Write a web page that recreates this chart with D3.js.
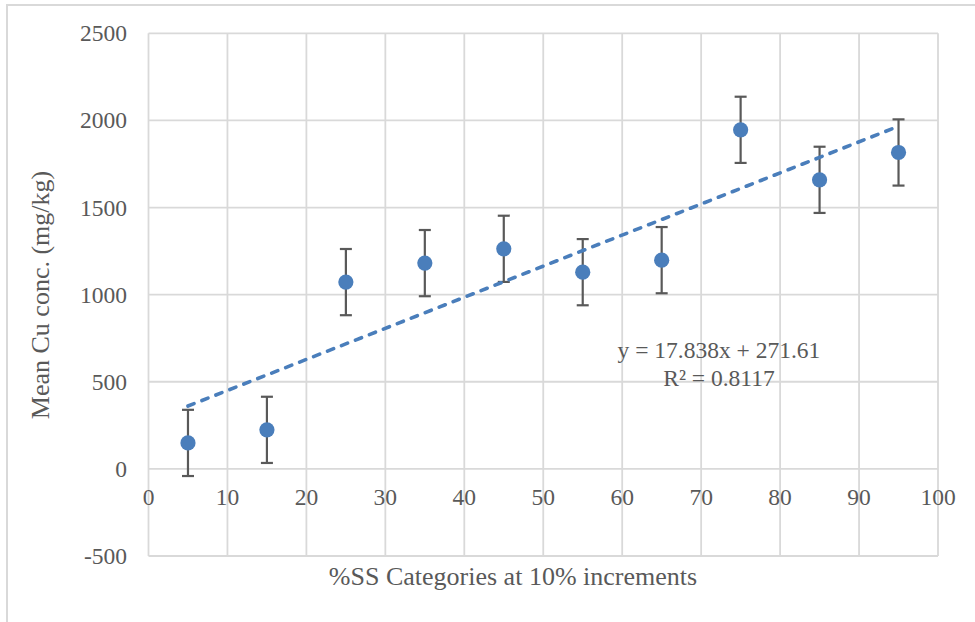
<!DOCTYPE html>
<html>
<head>
<meta charset="utf-8">
<script src="https://cdn.jsdelivr.net/npm/d3@7"></script>
<style>
  html, body { margin: 0; padding: 0; background: #fff; }
  svg { display: block; }
  text { font-family: "Liberation Serif", "Times New Roman", serif; fill: #595959; }
</style>
</head>
<body>
<svg id="chart" width="975" height="622"></svg>
<script>
// Mean Cu concentration by %SS category
const categories = [5, 15, 25, 35, 45, 55, 65, 75, 85, 95];
const meanCu = [149, 224, 1072, 1181, 1263, 1129, 1198, 1946, 1659, 1816];
const errorCu = [190, 190, 190, 190, 190, 190, 190, 190, 190, 190];
const xTicks = [0, 10, 20, 30, 40, 50, 60, 70, 80, 90, 100];
const yTicks = [-500, 0, 500, 1000, 1500, 2000, 2500];
// Linear trendline reported on the chart
const trendSlope = 17.838;
const trendIntercept = 271.61;
const trendR2 = 0.8117;

const svg = d3.select("#chart");
const W = 975, H = 622;

const x = d3.scaleLinear().domain([0, 100]).range([148.5, 938]);
const y = d3.scaleLinear().domain([-500, 2500]).range([556, 33.3]);

// chart frame
svg.append("rect")
  .attr("x", 7).attr("y", 5)
  .attr("width", W + 10).attr("height", H + 10)
  .attr("fill", "#fff").attr("stroke", "#d9d9d9").attr("stroke-width", 2);

const grid = svg.append("g").attr("stroke", "#d9d9d9").attr("stroke-width", 1.8);
grid.selectAll("line.v").data(xTicks).join("line")
  .attr("x1", d => x(d)).attr("x2", d => x(d))
  .attr("y1", y(2500)).attr("y2", y(-500));
grid.selectAll("line.h").data(yTicks).join("line")
  .attr("x1", x(0)).attr("x2", x(100))
  .attr("y1", d => y(d)).attr("y2", d => y(d));

// y axis labels
svg.append("g").selectAll("text").data(yTicks).join("text")
  .attr("x", 127).attr("y", d => y(d))
  .attr("text-anchor", "end").attr("dominant-baseline", "central")
  .attr("font-size", 23.5)
  .text(d => d);

// x axis labels, hung below the zero line
svg.append("g").selectAll("text").data(xTicks).join("text")
  .attr("x", d => x(d)).attr("y", y(0) + 28)
  .attr("text-anchor", "middle").attr("dominant-baseline", "central")
  .attr("font-size", 23.5)
  .text(d => d);

// axis titles
svg.append("text")
  .attr("transform", "translate(40,295) rotate(-90)")
  .attr("text-anchor", "middle").attr("dominant-baseline", "central")
  .attr("font-size", 26)
  .text("Mean Cu conc. (mg/kg)");
svg.append("text")
  .attr("x", 513).attr("y", 576)
  .attr("text-anchor", "middle").attr("dominant-baseline", "central")
  .attr("font-size", 26)
  .text("%SS Categories at 10% increments");

// error bars
const pts = categories.map((c, i) => ({ c, v: meanCu[i], e: errorCu[i] }));
const eb = svg.append("g").attr("stroke", "#595959").attr("stroke-width", 2.2);
eb.selectAll("line.stem").data(pts).join("line")
  .attr("x1", d => x(d.c)).attr("x2", d => x(d.c))
  .attr("y1", d => y(d.v + d.e)).attr("y2", d => y(d.v - d.e));
eb.selectAll("line.top").data(pts).join("line")
  .attr("x1", d => x(d.c) - 6).attr("x2", d => x(d.c) + 6)
  .attr("y1", d => y(d.v + d.e)).attr("y2", d => y(d.v + d.e));
eb.selectAll("line.bot").data(pts).join("line")
  .attr("x1", d => x(d.c) - 6).attr("x2", d => x(d.c) + 6)
  .attr("y1", d => y(d.v - d.e)).attr("y2", d => y(d.v - d.e));

// trendline over the data range
const x0 = d3.min(categories), x1 = d3.max(categories);
svg.append("line")
  .attr("x1", x(x0)).attr("y1", y(trendSlope * x0 + trendIntercept))
  .attr("x2", x(x1)).attr("y2", y(trendSlope * x1 + trendIntercept))
  .attr("stroke", "#4a7ebb").attr("stroke-width", 3.6)
  .attr("stroke-linecap", "round")
  .attr("stroke-dasharray", "6.5,8.5");

// markers
svg.append("g").selectAll("circle").data(pts).join("circle")
  .attr("cx", d => x(d.c)).attr("cy", d => y(d.v))
  .attr("r", 7.6).attr("fill", "#4a7ebb");

// trendline equation
const eq = svg.append("text").attr("font-size", 23.5).attr("text-anchor", "middle");
eq.append("tspan").attr("x", 719).attr("y", 358)
  .text(`y = ${trendSlope}x + ${trendIntercept}`);
eq.append("tspan").attr("x", 719).attr("y", 386)
  .text(`R² = ${trendR2}`);
</script>
</body>
</html>
